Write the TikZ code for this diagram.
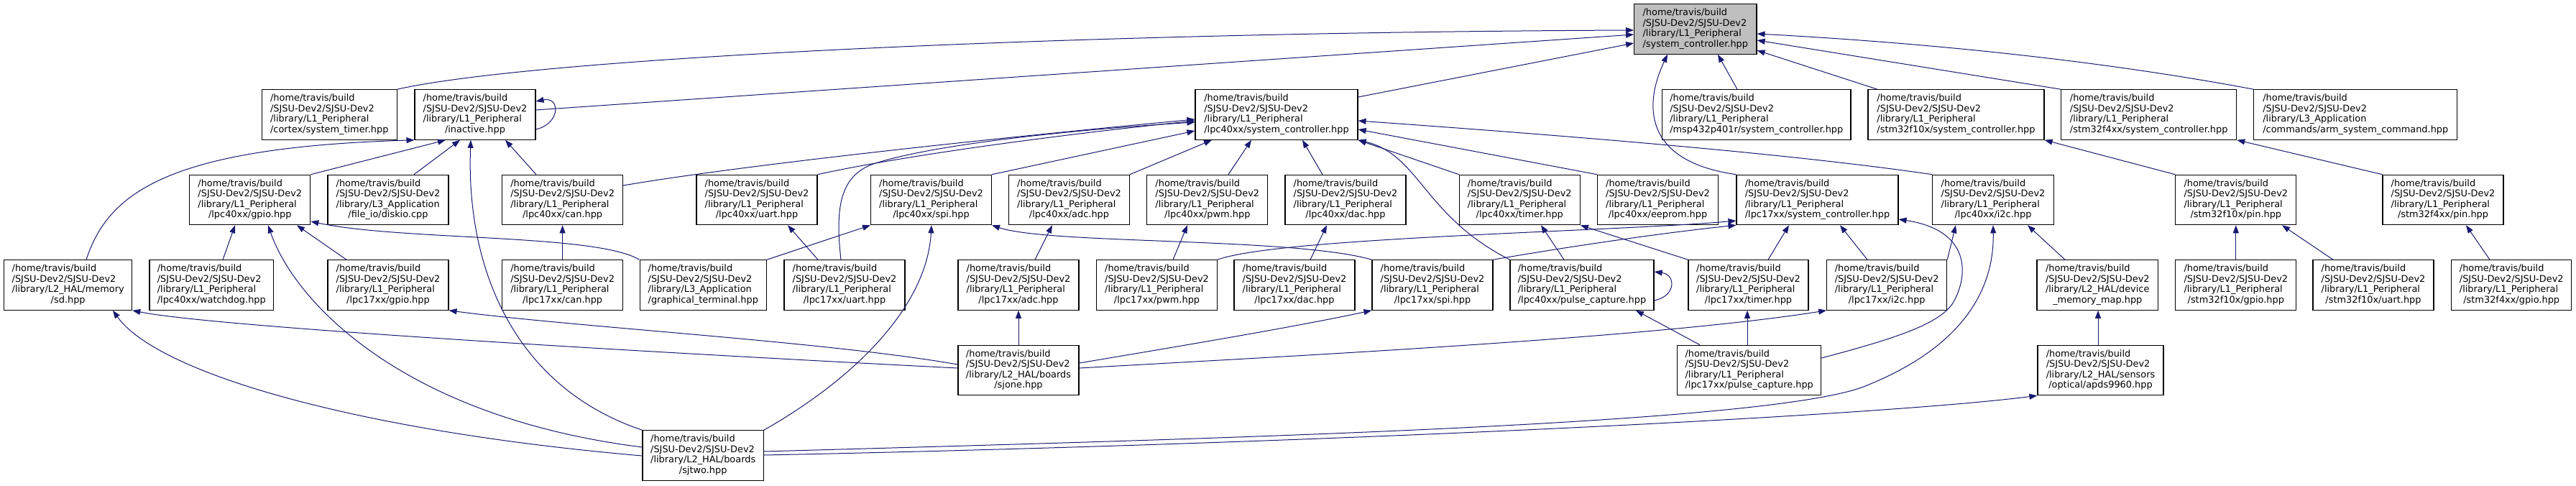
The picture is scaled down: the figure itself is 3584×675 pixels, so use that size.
\documentclass[tikz,border=0pt]{standalone}
\usepackage{fontspec}
\setmainfont{DejaVu Sans}
\usetikzlibrary{arrows.meta,calc}
\definecolor{mblue}{HTML}{191970}
\definecolor{rootgray}{HTML}{BFBFBF}
\newcommand\dvfont{\fontsize{12.9}{14.5}\selectfont}
\newcommand\myhb{/home/travis/build}
\newcommand\mysj{/SJSU-Dev2/SJSU-Dev2}
\newcommand\mylone{/library/L1\_Peripheral}
\newcommand\dlab[2]{\begin{tabular}{@{}l@{}}\myhb\\\mysj\\#1\\\multicolumn{1}{@{}c@{}}{#2}\end{tabular}}
\begin{document}
\begin{tikzpicture}[x=1pt,y=-1pt,
  box/.style={draw=black, fill=white, line width=1.1pt, inner sep=0pt, minimum height=69.5pt, font=\dvfont},
  inc/.style={draw=mblue, line width=1pt, -{Triangle[length=11pt,width=8pt]}}]
\useasboundingbox (0,0) rectangle (3584,675);
\fill[white] (0,0) rectangle (3584,675);
% row 0
\node[box, fill=rootgray, minimum width=170.4pt] (sc) at (2358.8,40.5) {\dlab{\mylone}{/system\_controller.hpp}};
% row 1
\node[box, minimum width=187.5pt] (st) at (458.3,159.5) {\dlab{\mylone}{/cortex/system\_timer.hpp}};
\node[box, minimum width=168pt] (inact) at (661,159.5) {\dlab{\mylone}{/inactive.hpp}};
\node[box, minimum width=226pt] (l4sc) at (1776,159.5) {\dlab{\mylone}{/lpc40xx/system\_controller.hpp}};
\node[box, minimum width=262.4pt] (msp) at (2443.8,159.5) {\dlab{\mylone}{/msp432p401r/system\_controller.hpp}};
\node[box, minimum width=245pt] (f1sc) at (2721.5,159.5) {\dlab{\mylone}{/stm32f10x/system\_controller.hpp}};
\node[box, minimum width=244pt] (f4sc) at (2989.7,159.5) {\dlab{\mylone}{/stm32f4xx/system\_controller.hpp}};
\node[box, minimum width=283pt] (arm) at (3277.3,159.5) {\dlab{/library/L3\_Application}{/commands/arm\_system\_command.hpp}};
% row 2
\node[box, minimum width=168pt] (l4gpio) at (347.8,278) {\dlab{\mylone}{/lpc40xx/gpio.hpp}};
\node[box, minimum width=168pt] (diskio) at (540,278) {\dlab{/library/L3\_Application}{/file\_io/diskio.cpp}};
\node[box, minimum width=168pt] (l4can) at (782.6,278) {\dlab{\mylone}{/lpc40xx/can.hpp}};
\node[box, minimum width=168pt] (l4uart) at (1053,278) {\dlab{\mylone}{/lpc40xx/uart.hpp}};
\node[box, minimum width=168pt] (l4spi) at (1295.5,278) {\dlab{\mylone}{/lpc40xx/spi.hpp}};
\node[box, minimum width=168pt] (l4adc) at (1487.5,278) {\dlab{\mylone}{/lpc40xx/adc.hpp}};
\node[box, minimum width=168pt] (l4pwm) at (1679.8,278) {\dlab{\mylone}{/lpc40xx/pwm.hpp}};
\node[box, minimum width=168pt] (l4dac) at (1872,278) {\dlab{\mylone}{/lpc40xx/dac.hpp}};
\node[box, minimum width=168pt] (l4timer) at (2114.3,278) {\dlab{\mylone}{/lpc40xx/timer.hpp}};
\node[box, minimum width=168pt] (l4eeprom) at (2306.5,278) {\dlab{\mylone}{/lpc40xx/eeprom.hpp}};
\node[box, minimum width=225pt] (l7sc) at (2528.5,278) {\dlab{\mylone}{/lpc17xx/system\_controller.hpp}};
\node[box, minimum width=168.7pt] (l4i2c) at (2773,278) {\dlab{\mylone}{/lpc40xx/i2c.hpp}};
\node[box, minimum width=168pt] (f1pin) at (3110.8,278) {\dlab{\mylone}{/stm32f10x/pin.hpp}};
\node[box, minimum width=168pt] (f4pin) at (3399,278) {\dlab{\mylone}{/stm32f4xx/pin.hpp}};
% row 3
\node[box, minimum width=178pt] (sd) at (94.7,396.5) {\dlab{/library/L2\_HAL/memory}{/sd.hpp}};
\node[box, minimum width=172.6pt] (wdog) at (294.3,396.5) {\dlab{\mylone}{/lpc40xx/watchdog.hpp}};
\node[box, minimum width=168pt] (l7gpio) at (540,396.5) {\dlab{\mylone}{/lpc17xx/gpio.hpp}};
\node[box, minimum width=168pt] (l7can) at (782.6,396.5) {\dlab{\mylone}{/lpc17xx/can.hpp}};
\node[box, minimum width=176.5pt] (gterm) at (978.3,396.5) {\dlab{/library/L3\_Application}{/graphical\_terminal.hpp}};
\node[box, minimum width=168pt] (l7uart) at (1175,396.5) {\dlab{\mylone}{/lpc17xx/uart.hpp}};
\node[box, minimum width=168pt] (l7adc) at (1417,396.5) {\dlab{\mylone}{/lpc17xx/adc.hpp}};
\node[box, minimum width=168pt] (l7pwm) at (1609.5,396.5) {\dlab{\mylone}{/lpc17xx/pwm.hpp}};
\node[box, minimum width=168pt] (l7dac) at (1801,396.5) {\dlab{\mylone}{/lpc17xx/dac.hpp}};
\node[box, minimum width=168pt] (l7spi) at (1993,396.5) {\dlab{\mylone}{/lpc17xx/spi.hpp}};
\node[box, minimum width=200pt] (l4pc) at (2201,396.5) {\dlab{\mylone}{/lpc40xx/pulse\_capture.hpp}};
\node[box, minimum width=167pt] (l7timer) at (2432.5,396.5) {\dlab{\mylone}{/lpc17xx/timer.hpp}};
\node[box, minimum width=167pt] (l7i2c) at (2625.2,396.5) {\dlab{\mylone}{/lpc17xx/i2c.hpp}};
\node[box, minimum width=168.6pt] (dmm) at (2918.3,396.5) {\dlab{/library/L2\_HAL/device}{\_memory\_map.hpp}};
\node[box, minimum width=168pt] (f1gpio) at (3110.8,396.5) {\dlab{\mylone}{/stm32f10x/gpio.hpp}};
\node[box, minimum width=168pt] (f1uart) at (3302,396.5) {\dlab{\mylone}{/stm32f10x/uart.hpp}};
\node[box, minimum width=167pt] (f4gpio) at (3494.2,396.5) {\dlab{\mylone}{/stm32f4xx/gpio.hpp}};
% row 4
\node[box, minimum width=168pt] (sjone) at (1417,515) {\dlab{/library/L2\_HAL/boards}{/sjone.hpp}};
\node[box, minimum width=200pt] (l7pc) at (2433.7,515) {\dlab{\mylone}{/lpc17xx/pulse\_capture.hpp}};
\node[box, minimum width=175pt] (apds) at (2922.5,515) {\dlab{/library/L2\_HAL/sensors}{/optical/apds9960.hpp}};
% row 5
\node[box, minimum width=168.4pt] (sjtwo) at (978.2,633.5) {\dlab{/library/L2\_HAL/boards}{/sjtwo.hpp}};

% ---- edges into system_controller
\draw[inc] (st.north east) .. controls (750,80) and (1500,45) .. (sc.west |- 0,42);
\draw[inc] (inact.east |- 0,153) -- (sc.west |- 0,48);
\draw[inc] (l4sc.east |- 0,135) -- (sc.west |- 0,60);
\draw[inc] (msp.north -| 2417,0) -- (sc.south -| 2390,0);
\draw[inc] (f1sc.north -| 2612,0) -- (sc.east |- 0,70);
\draw[inc] (f4sc.north west) -- (sc.east |- 0,56);
\draw[inc] (arm.north west) .. controls (2900,80) and (2650,58) .. (sc.east |- 0,47);
\draw[inc] (l7sc.north west) .. controls (2290,225) and (2285,150) .. (sc.south -| 2320,0);
% ---- inactive
\draw[inc] (inact.east |- 0,180) .. controls (780,172) and (780,134) .. (inact.east |- 0,141);
\draw[inc] (sd.north -| 120,0) .. controls (150,270) and (230,205) .. (inact.south west);
\draw[inc] (l4gpio.north east) -- (inact.south -| 620,0);
\draw[inc] (diskio.north -| 576,0) -- (inact.south -| 640,0);
\draw[inc] (sjtwo.north west) .. controls (720,540) and (648,380) .. (inact.south -| 655,0);
\draw[inc] (l4can.north -| 746,0) -- (inact.south -| 703,0);
% ---- lpc40xx system controller
\draw[inc] (l4can.east |- 0,258) .. controls (1000,235) and (1300,200) .. (l4sc.west |- 0,166);
\draw[inc] (l4uart.north east) .. controls (1250,218) and (1450,190) .. (l4sc.west |- 0,168);
\draw[inc] (l7uart.north -| 1170,0) .. controls (1162,290) and (1168,245) .. (1215,228) .. controls (1300,200) and (1500,180) .. (l4sc.west |- 0,170);
\draw[inc] (l4spi.north east) -- (l4sc.west |- 0,182);
\draw[inc] (l4adc.north east) -- (l4sc.south -| 1686,0);
\draw[inc] (l4pwm.north -| 1709,0) -- (l4sc.south -| 1741,0);
\draw[inc] (l4dac.north -| 1840,0) -- (l4sc.south -| 1812,0);
\draw[inc] (l4timer.north west) -- (l4sc.south east);
\draw[inc] (l4pc.north west) .. controls (1980,300) and (1975,215) .. (l4sc.south east);
\draw[inc] (l4eeprom.north west) -- (l4sc.east |- 0,180);
\draw[inc] (l4i2c.north west) .. controls (2500,215) and (2200,190) .. (l4sc.east |- 0,168);
% ---- lpc40xx gpio
\draw[inc] (wdog.north -| 310,0) -- (l4gpio.south -| 327,0);
\draw[inc] (sjtwo.west |- 0,622) .. controls (560,580) and (410,420) .. (l4gpio.south -| 373,0);
\draw[inc] (l7gpio.north -| 482,0) -- (l4gpio.south -| 413,0);
\draw[inc] (gterm.north west) .. controls (830,325) and (560,335) .. (l4gpio.east |- 0,308);
% ---- row 3 to row 2
\draw[inc] (l7can.north) -- (l4can.south);
\draw[inc] (l7uart.north -| 1138,0) -- (l4uart.south -| 1096,0);
\draw[inc] (gterm.north east) -- (l4spi.south west);
\draw[inc] (sjtwo.north east) .. controls (1200,520) and (1290,420) .. (l4spi.south -| 1296,0);
\draw[inc] (l7spi.north west) .. controls (1800,330) and (1460,340) .. (l4spi.south east);
\draw[inc] (l7adc.north -| 1440,0) -- (l4adc.south -| 1464,0);
\draw[inc] (l7pwm.north -| 1632,0) -- (l4pwm.south -| 1652,0);
\draw[inc] (l7dac.north -| 1823,0) -- (l4dac.south -| 1846,0);
\draw[inc] (l4pc.north -| 2176,0) -- (l4timer.south -| 2144,0);
\draw[inc] (l7timer.north west) -- (l4timer.south east);
% ---- lpc17xx system controller
\draw[inc] (l7timer.north -| 2460,0) -- (l7sc.south -| 2489,0);
\draw[inc] (l7i2c.north -| 2598,0) -- (l7sc.south -| 2560,0);
\draw[inc] (l7spi.north east) .. controls (2200,340) and (2330,322) .. (l7sc.south west);
\draw[inc] (l7pwm.north east) .. controls (1780,330) and (2250,322) .. (l7sc.west |- 0,307);
\draw[inc] (l7pc.east |- 0,498) .. controls (2640,470) and (2700,450) .. (2718,420) .. controls (2740,380) and (2740,320) .. (l7sc.east |- 0,305);
% ---- lpc40xx i2c
\draw[inc] (l7i2c.north east) -- (l4i2c.south -| 2721,0);
\draw[inc] (dmm.north -| 2873,0) -- (l4i2c.south -| 2821,0);
\draw[inc] (sjtwo.east |- 0,628) .. controls (1700,610) and (2480,590) .. (2600,535) .. controls (2710,490) and (2775,420) .. (l4i2c.south -| 2773,0);
\draw[inc] (sjtwo.east |- 0,633) .. controls (1800,618) and (2600,580) .. (apds.south west);
% ---- stm32 and device map
\draw[inc] (f1pin.north west) -- (f1sc.south east);
\draw[inc] (f4pin.north west) -- (f4sc.south east);
\draw[inc] (f1gpio.north) -- (f1pin.south);
\draw[inc] (f1uart.north -| 3246,0) -- (f1pin.south -| 3175,0);
\draw[inc] (f4gpio.north -| 3464,0) -- (f4pin.south -| 3431,0);
\draw[inc] (apds.north -| 2919,0) -- (dmm.south -| 2919,0);
% ---- boards
\draw[inc] (sjtwo.west |- 0,634) .. controls (500,600) and (220,520) .. (sd.south -| 157,0);
\draw[inc] (sjone.west |- 0,512) .. controls (900,490) and (300,455) .. (sd.south east);
\draw[inc] (sjone.west |- 0,507) .. controls (1150,475) and (800,455) .. (l7gpio.south east);
\draw[inc] (sjone.north) -- (l7adc.south);
\draw[inc] (sjone.east |- 0,505) .. controls (1650,480) and (1800,455) .. (l7spi.south west);
\draw[inc] (sjone.east |- 0,512) .. controls (1800,495) and (2300,470) .. (l7i2c.south west);
% ---- pulse capture
\draw[inc] (l7pc.north -| 2365,0) -- (l4pc.south -| 2276,0);
\draw[inc] (l4pc.east |- 0,418) .. controls (2332,412) and (2332,382) .. (l4pc.east |- 0,378);
\draw[inc] (l7pc.north -| 2431,0) -- (l7timer.south -| 2431,0);
\end{tikzpicture}
\end{document}
